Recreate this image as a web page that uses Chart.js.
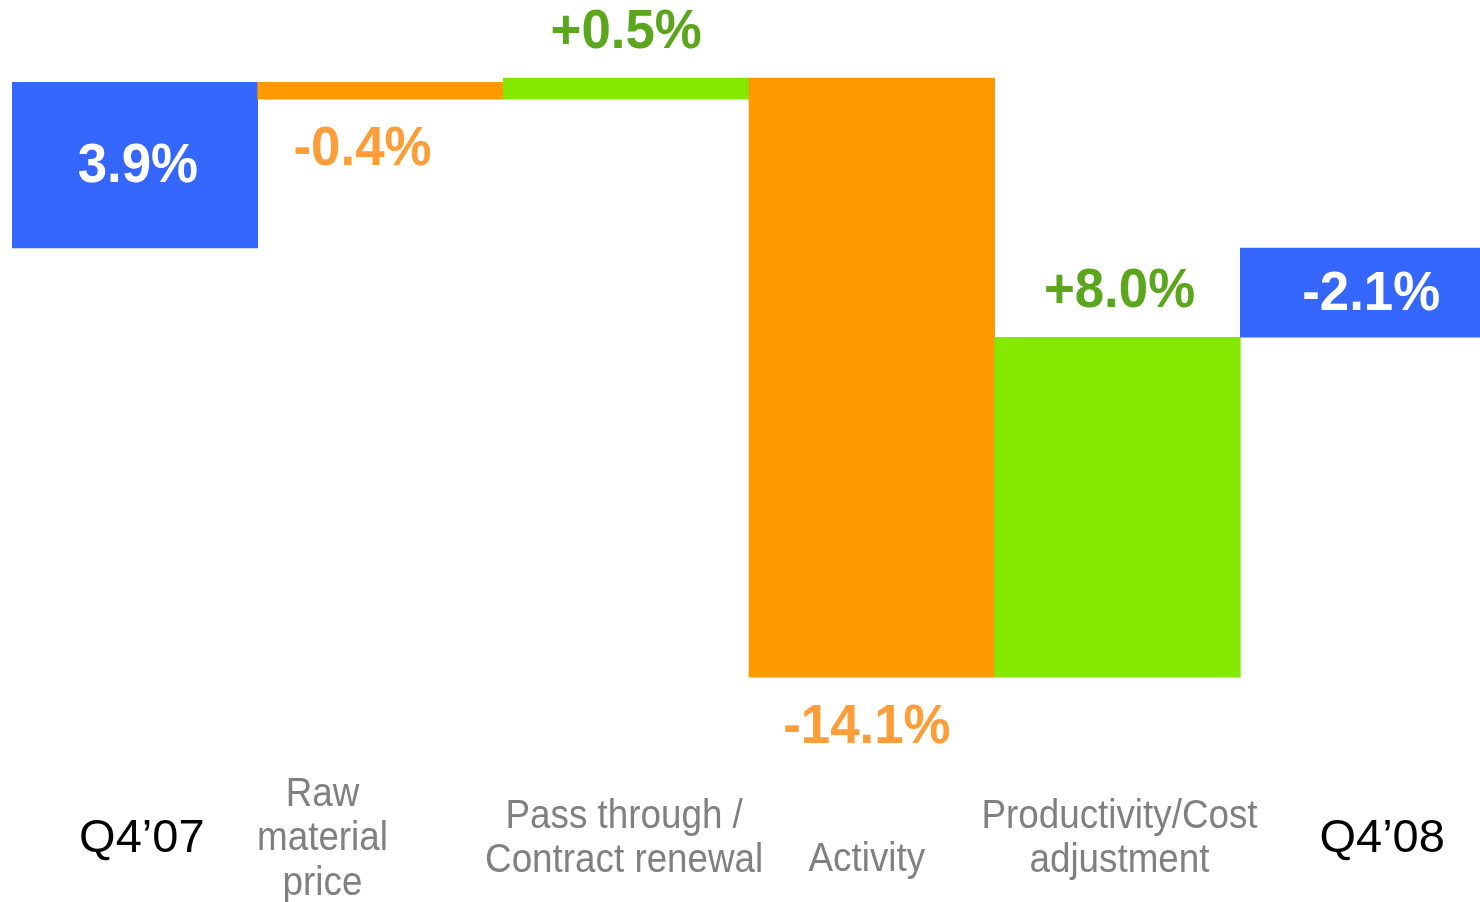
<!DOCTYPE html>
<html>
<head>
<meta charset="utf-8">
<script src="https://cdn.jsdelivr.net/npm/chart.js@4"></script>
<style>
  html, body { margin: 0; padding: 0; background: #fff; overflow: hidden; }
  #wrap { width: 1486px; height: 902px; }
</style>
</head>
<body>
<div id="wrap"><canvas id="bridgeChart"></canvas></div>
<script>
// categories and changes (percentage points)
const categories = [['Q4\u201907'], ['Raw', 'material', 'price'], ['Pass through /', 'Contract renewal'], ['Activity'], ['Productivity/Cost', 'adjustment'], ['Q4\u201908']];
const changes = [3.9, -0.4, 0.5, -14.1, 8.0, -2.1];
const isTotal = [true, false, false, false, false, true];
const valueLabels = ['3.9%', '-0.4%', '+0.5%', '-14.1%', '+8.0%', '-2.1%'];

// build floating ranges from the running total
const ranges = [];
let running = 0;
changes.forEach((v, i) => {
    if (isTotal[i]) {
        ranges.push([0, v]);
        running = v;
    } else {
        ranges.push([running, running + v]);
        running += v;
    }
});

const barColors = changes.map((v, i) => isTotal[i] ? '#3567FF' : (v < 0 ? '#FF9900' : '#84E800'));

const labelShiftX = [7, -58, -2, -5, 2, 19];
const labelShiftY = [0, 0, 0, 21, 0, 0];
const valueShiftX = [3, -18, 0, -5, 2, 8];

function drawScaled(ctx, text, x, y, sx) {
    ctx.save();
    ctx.translate(x, y);
    ctx.scale(sx, 1);
    ctx.fillText(text, 0, 0);
    ctx.restore();
}

const bridgeLabels = {
    id: 'bridgeLabels',
    afterDatasetsDraw(chart) {
        const ctx = chart.ctx;
        const meta = chart.getDatasetMeta(0);
        const xScale = chart.scales.x;
        ctx.save();
        ctx.textAlign = 'center';

        // value labels
        ctx.font = 'bold 55px "Liberation Sans", Arial, sans-serif';
        meta.data.forEach((bar, i) => {
            const x = bar.x + valueShiftX[i];
            const top = Math.min(bar.y, bar.base);
            const bottom = Math.max(bar.y, bar.base);
            if (isTotal[i]) {
                ctx.fillStyle = '#ffffff';
                ctx.textBaseline = 'middle';
                drawScaled(ctx, valueLabels[i], x, (top + bottom) / 2 + 2, 0.96);
            } else if (changes[i] < 0) {
                ctx.fillStyle = '#FF9E38';
                ctx.textBaseline = 'alphabetic';
                drawScaled(ctx, valueLabels[i], x, bottom + 66, 0.96);
            } else {
                ctx.fillStyle = '#5BA61C';
                ctx.textBaseline = 'alphabetic';
                drawScaled(ctx, valueLabels[i], x, top - 30, 0.96);
            }
        });

        // category labels
        ctx.textBaseline = 'middle';
        categories.forEach((lines, i) => {
            const x = xScale.getPixelForValue(i) + labelShiftX[i];
            const lh = 44.5;
            const startY = 839 + labelShiftY[i] - (lines.length - 1) * lh / 2;
            if (isTotal[i]) {
                ctx.fillStyle = '#000000';
                ctx.font = '47px "Liberation Sans", Arial, sans-serif';
            } else {
                ctx.fillStyle = '#808080';
                ctx.font = '40px "Liberation Sans", Arial, sans-serif';
            }
            lines.forEach((line, j) => {
                drawScaled(ctx, line, x, startY + j * lh, isTotal[i] ? 1 : 0.92);
            });
        });
        ctx.restore();
    }
};

document.addEventListener('DOMContentLoaded', () => {
    const ctx = document.getElementById('bridgeChart').getContext('2d');
    new Chart(ctx, {
        type: 'bar',
        data: {
            labels: categories.map(l => l.join(' ')),
            datasets: [{
                data: ranges,
                backgroundColor: barColors,
                borderWidth: 0,
                barPercentage: 1,
                categoryPercentage: 1
            }]
        },
        options: {
            responsive: true,
            maintainAspectRatio: false,
            animation: false,
            layout: { padding: { left: 12, right: 0, top: 0, bottom: 0 } },
            plugins: {
                legend: { display: false },
                tooltip: { enabled: false }
            },
            scales: {
                x: { display: false },
                y: { display: false, min: -15.39, max: 5.835 }
            }
        },
        plugins: [bridgeLabels]
    });
});
</script>
</body>
</html>
